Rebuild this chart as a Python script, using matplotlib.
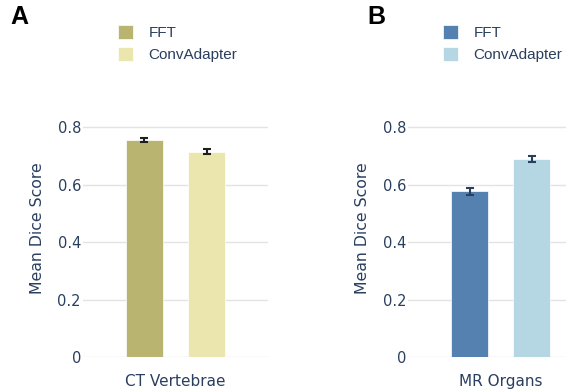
import matplotlib
matplotlib.use("Agg")
import matplotlib.pyplot as plt

plt.rcParams['font.family'] = ['DejaVu Sans']

methods = ["FFT", "ConvAdapter"]
datasets = ["CT Vertebrae", "MR Organs"]
means_ct = [0.756, 0.715]
errs_ct = [0.008, 0.008]
means_mr = [0.577, 0.690]
errs_mr = [0.012, 0.010]
colors_ct = ["#b9b571", "#ebe6ad"]
colors_mr = ["#5581b0", "#b4d7e3"]
err_colors = ["#1f1f1f", "#2a3f5f"]
panel_labels = ["A", "B"]

W, H = 566, 392
fig = plt.figure(figsize=(W / 100, H / 100), dpi=100)
txt = "#2a3f5f"

y0_px = 357.3
unit_px = 287.5
ytop = 0.9
ax_h = ytop * unit_px

def make_ax(left_px, width_px):
    return fig.add_axes([left_px / W, (H - y0_px) / H, width_px / W, ax_h / H])

panels = [
    (make_ax(83, 185), means_ct, errs_ct, colors_ct, datasets[0], err_colors[0]),
    (make_ax(408.3, 185), means_mr, errs_mr, colors_mr, datasets[1], err_colors[1]),
]
offsets = [-0.1676, 0.1676]
legend_x = [112, 437]
label_x = [10, 367]

for i, (ax, means, errs, cols, name, ecol) in enumerate(panels):
    handles = []
    for j, m in enumerate(methods):
        b = ax.bar(offsets[j], means[j], width=0.2, color=cols[j],
                   edgecolor="white", linewidth=0.5, label=m, zorder=2)
        ax.errorbar(offsets[j], means[j], yerr=errs[j], fmt="none",
                    ecolor=ecol, elinewidth=1.5, capsize=3, capthick=1.5, zorder=3)
        handles.append(b)
    ax.set_xlim(-0.5, 0.5)
    ax.set_ylim(0, ytop)
    ax.set_yticks([0, 0.2, 0.4, 0.6, 0.8])
    ax.set_yticklabels(["0", "0.2", "0.4", "0.6", "0.8"])
    ax.set_xticks([0])
    ax.set_xticklabels([name])
    ax.tick_params(axis="both", length=0, colors=txt)
    ax.tick_params(axis="y", pad=1.5, labelsize=10.5)
    ax.tick_params(axis="x", pad=12, labelsize=11)
    ax.grid(axis="y", color="#e3e3e3", linewidth=1, zorder=0)
    ax.set_axisbelow(True)
    for s in ax.spines.values():
        s.set_visible(False)
    ax.set_ylabel("Mean Dice Score", color=txt, fontsize=11.3, labelpad=9)
    leg = fig.legend(handles=handles, labels=methods, loc="upper left",
                     bbox_to_anchor=(legend_x[i] / W, 1 - 19 / H),
                     frameon=False, handlelength=1.0, handleheight=1.0,
                     handletextpad=1.0, labelspacing=0.45, borderaxespad=0,
                     prop={"family": "Liberation Sans", "size": 11})
    for t in leg.get_texts():
        t.set_color(txt)
    fig.text(label_x[i] / W, 1 - 5 / H, panel_labels[i], fontsize=18,
             fontweight="bold", family="Liberation Sans", va="top", ha="left", color="black")

fig.savefig("out.png", dpi=100)
